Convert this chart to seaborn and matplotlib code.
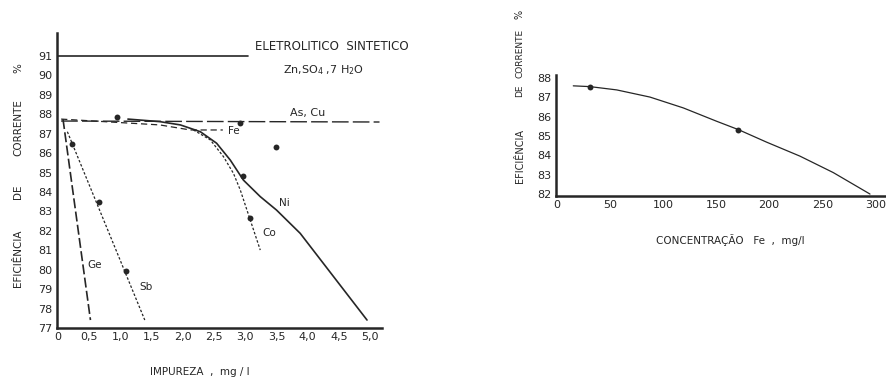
import matplotlib
matplotlib.use("Agg")
import matplotlib.pyplot as plt
import seaborn as sns
import pandas as pd

# ---------------- data ----------------
# Left chart: current efficiency (%) vs impurity (mg/l)
sint_x = [0.0, 3.05]
sint_y = [91.0, 91.0]
ascu_x = [0.05, 5.15]
ascu_y = [87.65, 87.6]
fe_x = [0.05, 1.63, 2.12, 2.64]
fe_y = [87.75, 87.45, 87.19, 87.19]
ni_x = [1.12, 1.63, 1.96, 2.28, 2.54, 2.76, 2.97, 3.24, 3.50, 3.88, 4.95]
ni_y = [87.75, 87.62, 87.45, 87.10, 86.51, 85.64, 84.61, 83.76, 83.07, 81.87, 77.41]
co_x = [2.17, 2.44, 2.65, 2.81, 2.92, 3.07, 3.24]
co_y = [87.19, 86.68, 85.82, 84.96, 84.10, 82.65, 81.01]
ge_x = [0.08, 0.52]
ge_y = [87.75, 77.41]
sb_x = [0.15, 1.39]
sb_y = [87.1, 77.41]
pts_x = [0.94, 2.92, 3.49, 2.96, 3.07, 0.23, 0.66, 1.09]
pts_y = [87.84, 87.53, 86.33, 84.8, 82.65, 86.47, 83.5, 79.95]
left_xticks = [0, 0.5, 1.0, 1.5, 2.0, 2.5, 3.0, 3.5, 4.0, 4.5, 5.0]
left_xticklabels = ["0", "0,5", "1,0", "1,5", "2,0", "2,5", "3,0", "3,5", "4,0", "4,5", "5,0"]
left_yticks = list(range(77, 92))

# Right chart: current efficiency (%) vs Fe concentration (mg/l)
fe_conc = [15.6, 31.3, 56.5, 87.8, 119.2, 150.6, 171, 197.7, 229, 260.4, 295]
fe_eff = [87.59, 87.55, 87.38, 87.01, 86.45, 85.76, 85.33, 84.68, 83.96, 83.11, 82.0]
fe_pts_x = [31.3, 171]
fe_pts_y = [87.55, 85.33]
right_xticks = [0, 50, 100, 150, 200, 250, 300]
right_yticks = list(range(82, 89))

# ---------------- figure ----------------
sns.set_theme(style="white")
plt.rcParams["font.family"] = ["DejaVu Sans"]
INK = "#262626"
W, H = 887, 381
fig = plt.figure(figsize=(W / 100, H / 100), dpi=100)
fig.patch.set_facecolor("white")


def px_axes(l, t, r, b):
    return fig.add_axes([l / W, 1 - b / H, (r - l) / W, (b - t) / H])


def ftext(x, y, s, **kw):
    kw.setdefault("color", INK)
    kw.setdefault("fontsize", 8)
    fig.text(x / W, 1 - y / H, s, **kw)


def style(ax):
    for s in ["top", "right"]:
        ax.spines[s].set_visible(False)
    for s in ["left", "bottom"]:
        ax.spines[s].set_linewidth(1.8)
        ax.spines[s].set_color(INK)
    ax.tick_params(length=0, labelsize=8, colors=INK, pad=3)
    ax.set_facecolor("white")
    ax.grid(False)
    ax.set_xlabel("")
    ax.set_ylabel("")


def line(ax, x, y, **kw):
    sns.lineplot(data=pd.DataFrame({"x": x, "y": y}), x="x", y="y", ax=ax,
                 sort=False, estimator=None, color=INK, **kw)


# Left chart
ax1 = px_axes(57, 33, 382, 328)
line(ax1, sint_x, sint_y, linewidth=1.2)
line(ax1, ascu_x, ascu_y, linewidth=1.0, dashes=(12, 3))
line(ax1, fe_x, fe_y, linewidth=0.9, dashes=(5, 3))
line(ax1, ni_x, ni_y, linewidth=1.2)
line(ax1, co_x, co_y, linewidth=0.9, dashes=(2, 1.5))
line(ax1, ge_x, ge_y, linewidth=1.2, dashes=(6, 2))
line(ax1, sb_x, sb_y, linewidth=0.9, dashes=(2, 1.5))
sns.scatterplot(x=pts_x, y=pts_y, ax=ax1, color=INK, s=18, edgecolor=INK, linewidth=0)
ax1.set_xlim(-0.016, 5.19)
ax1.set_ylim(77, 92.18)
ax1.set_xticks(left_xticks)
ax1.set_xticklabels(left_xticklabels)
ax1.set_yticks(left_yticks)
ax1.set_yticklabels([str(v) for v in left_yticks])
style(ax1)

ftext(255, 47, "ELETROLITICO  SINTETICO", va="center", ha="left", fontsize=8.5)
ftext(283, 70, "Zn,SO$_4$ ,7 H$_2$O", va="center", ha="left", fontsize=8)
ftext(290, 113, "As, Cu", va="center", ha="left", fontsize=8)
ftext(228, 131, "Fe", va="center", ha="left", fontsize=7.5)
ftext(279, 203, "Ni", va="center", ha="left", fontsize=7.5)
ftext(262, 233, "Co", va="center", ha="left", fontsize=7.5)
ftext(87, 265, "Ge", va="center", ha="left", fontsize=7.5)
ftext(139, 287, "Sb", va="center", ha="left", fontsize=7.5)
ftext(200, 372, "IMPUREZA  ,  mg / l", va="center", ha="center", fontsize=7.5)
for s, yc in [("EFICIÊNCIA", 258), ("DE", 192), ("CORRENTE", 128), ("%", 68)]:
    ftext(18, yc, s, va="center", ha="center", rotation=90, fontsize=7.5)

# Right chart
ax2 = px_axes(556, 75, 887, 196)
line(ax2, fe_conc, fe_eff, linewidth=0.9)
sns.scatterplot(x=fe_pts_x, y=fe_pts_y, ax=ax2, color=INK, s=18, edgecolor=INK, linewidth=0)
ax2.set_xlim(-0.66, 311)
ax2.set_ylim(81.9, 88.15)
ax2.set_xticks(right_xticks)
ax2.set_yticks(right_yticks)
ax2.set_xticklabels([str(v) for v in right_xticks])
ax2.set_yticklabels([str(v) for v in right_yticks])
style(ax2)

ftext(730, 240, "CONCENTRAÇÃO   Fe  ,  mg/l", va="center", ha="center", fontsize=7.5)
for s, yc, fs in [("EFICIÊNCIA", 156, 7), ("DE", 91, 6.5), ("CORRENTE", 53, 6.5), ("%", 14, 7)]:
    ftext(520, yc, s, va="center", ha="center", rotation=90, fontsize=fs)

fig.savefig("out.png", dpi=100, facecolor="white")
